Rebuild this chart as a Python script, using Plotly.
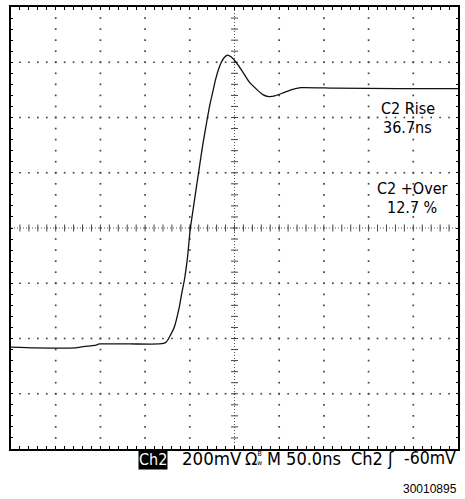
import plotly.graph_objects as go

# ---- data (time in ns, voltage in mV) ----
time_ns = [0, 26.7, 71.3, 82.4, 93.5, 99.0, 132.5, 165.9, 170.4, 173.7, 177.1, 182.6,
           188.2, 191.2, 193.8, 197.4, 200.4, 204.9, 209.7, 214.4, 219.4, 222.7, 225.3,
           228.8, 231.6, 235.0, 238.3, 242.0, 246.1, 251.3, 258.3, 266.2, 275.1, 281.7,
           288.4, 296.2, 305.1, 314.0, 324.0, 360.8, 433.2, 500.0]
volt_mv = [-431.4, -434.2, -434.2, -428.8, -425.2, -419.8, -419.8, -419.8, -418.0, -412.6,
           -395.3, -359.3, -287.2, -233.2, -191.0, -107.0, -7.2, 93.7, 198.2, 299.1, 392.8,
           450.5, 487.0, 536.9, 569.4, 598.2, 616.2, 625.9, 619.8, 601.8, 569.4, 529.7,
           500.9, 482.9, 475.7, 479.3, 490.1, 501.0, 508.1, 506.3, 504.5, 504.5]

meas_labels = ["C2 Rise", "36.7ns", "C2 +Over", "12.7 %"]
status_ch = "Ch2"
status_volt = "200mV"
status_ohm = "Ω"
status_bw = "B<br>w"
status_time = "M 50.0ns"
status_trig_ch = "Ch2"
status_trig_slope = "ʃ"
status_level = "-60mV"
figure_id = "30010895"

# ---- axis geometry (scope graticule) ----
X0, X1, XDIV = 0, 500, 50
Y0, Y1, YDIV = -800, 800, 200
NMINOR = 5
XC, YC = 250, 0

W, H = 465, 499
ML, MR, MT, MB = 11, 5, 5, 50

fig = go.Figure()

# grid dots on major graticule lines (at minor spacing)
gx, gy = [], []
xminor = XDIV / NMINOR
yminor = YDIV / NMINOR
nx = int(round((X1 - X0) / xminor))
ny = int(round((Y1 - Y0) / yminor))
for i in range(1, int((X1 - X0) / XDIV)):
    xv = X0 + i * XDIV
    if xv == XC:
        continue
    for j in range(1, ny):
        gx.append(xv); gy.append(Y0 + j * yminor)
for i in range(1, int((Y1 - Y0) / YDIV)):
    yv = Y0 + i * YDIV
    if yv == YC:
        continue
    for j in range(1, nx):
        gx.append(X0 + j * xminor); gy.append(yv)
fig.add_trace(go.Scatter(x=gx, y=gy, mode="markers",
                         marker=dict(symbol="square", size=1.7, color="#444444", line_width=0),
                         hoverinfo="skip", showlegend=False))

# center cross ticks
tx = [X0 + j * xminor for j in range(1, nx)]
fig.add_trace(go.Scatter(x=tx, y=[YC] * len(tx), mode="markers",
                         marker=dict(symbol="line-ns", size=5, line=dict(width=1, color="#444444")),
                         hoverinfo="skip", showlegend=False))
ty = [Y0 + j * yminor for j in range(1, ny)]
fig.add_trace(go.Scatter(x=[XC] * len(ty), y=ty, mode="markers",
                         marker=dict(symbol="line-ew", size=5, line=dict(width=1, color="#444444")),
                         hoverinfo="skip", showlegend=False))

# waveform
fig.add_trace(go.Scatter(x=time_ns, y=volt_mv, mode="lines",
                         line=dict(color="#111111", width=1.3, shape="spline", smoothing=0.5),
                         hoverinfo="skip", showlegend=False))

# center dotted lines
fig.add_shape(type="line", xref="x", yref="y", x0=X0, x1=X1, y0=YC, y1=YC,
              line=dict(color="#555555", width=1, dash="1px,2px"), layer="below")
fig.add_shape(type="line", xref="x", yref="y", x0=XC, x1=XC, y0=Y0, y1=Y1,
              line=dict(color="#555555", width=1, dash="1px,2px"), layer="below")

FONT = "Liberation Sans Narrow, DejaVu Sans Condensed, Arial Narrow, sans-serif"

def px_x(p):
    return (p - ML) / (W - ML - MR)

def px_y(p):
    return 1 - (p - MT) / (H - MT - MB)

def note(txt, x, y, xanchor="left", yanchor="middle", size=18, color="black",
         family=FONT, **kw):
    fig.add_annotation(text=txt, xref="paper", yref="paper", x=px_x(x), y=px_y(y),
                       xanchor=xanchor, yanchor=yanchor, showarrow=False, borderpad=0,
                       font=dict(family=family, size=size, color=color), **kw)

# measurement readouts
note(meas_labels[0], 410, 107, xanchor="center", size=16)
note(meas_labels[1], 409, 126, xanchor="center", size=16)
note(meas_labels[2], 414, 187, xanchor="center", size=16)
note(meas_labels[3], 414, 206, xanchor="center", size=16)

# status line
note(status_ch, 139, 459.5, size=16, color="white", bgcolor="black")
note(status_volt, 182, 458.5, size=18.5)
note(status_ohm, 245, 458.5)
note(status_bw, 257, 458.5, size=7)
note(status_time, 267, 458.5)
note(status_trig_ch, 352, 458.5)
note(status_trig_slope, 388, 458.5)
note(status_level, 459, 458.5, xanchor="right", size=17.5)
note(figure_id, 460, 489, xanchor="right", size=12, family="Liberation Sans, Arial, sans-serif")

axis_common = dict(showgrid=False, zeroline=False, showline=True, mirror="ticks",
                   linecolor="black", linewidth=1.5, ticks="inside", tickcolor="black",
                   tickwidth=1, showticklabels=False, fixedrange=True)
fig.update_xaxes(range=[X0, X1], tick0=X0, dtick=xminor, ticklen=3, **axis_common)
fig.update_yaxes(range=[Y0, Y1], tick0=Y0, dtick=yminor, ticklen=2, **axis_common)

fig.update_layout(width=W, height=H, margin=dict(l=ML, r=MR, t=MT, b=MB),
                  plot_bgcolor="white", paper_bgcolor="white", showlegend=False)

fig.write_html("out.html", config={"displayModeBar": False},
               post_script="document.body.style.margin='0';")
